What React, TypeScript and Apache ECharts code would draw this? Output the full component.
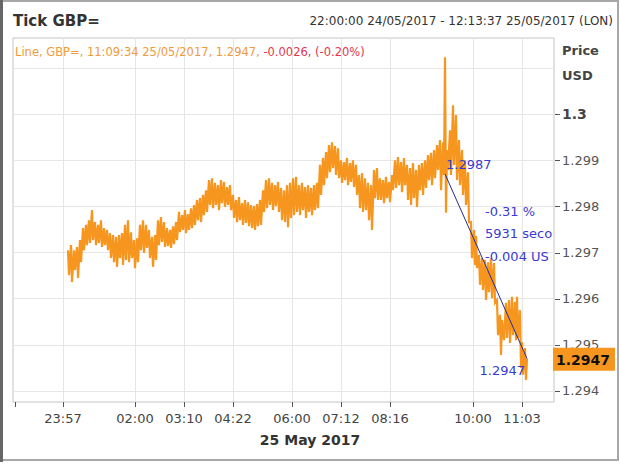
import React, { useEffect, useRef } from "react";
import * as echarts from "echarts";

const FONT = '"DejaVu Sans", sans-serif';

// x axis: tick-count position scale (not linear in time)
const xMin = 0;
const xMax = 541;
const xTickPos = [2, 50, 122, 171, 220, 279, 328, 377, 460, 509];
const xTickLabels = ["", "23:57", "02:00", "03:10", "04:22", "06:00", "07:12", "08:16", "10:00", "11:03"];

const yMin = 1.29376;
const yMax = 1.30165;
const yTickValues = [1.294, 1.295, 1.296, 1.297, 1.298, 1.299, 1.3];
const yGridValues = [1.294, 1.295, 1.296, 1.297, 1.298, 1.299, 1.3, 1.301];

const tickIndex = [
  55, 56, 58, 59, 61, 62, 64, 65, 67, 68, 70, 71, 73, 74, 76, 77, 79, 80, 82, 83, 85, 86, 88, 89, 91, 92, 94, 95,
  97, 98, 100, 101, 103, 104, 106, 107, 109, 110, 112, 113, 115, 116, 118, 119, 121, 122, 124, 125, 127, 128, 130,
  131, 133, 134, 136, 137, 139, 140, 142, 143, 145, 146, 148, 149, 151, 152, 154, 155, 157, 158, 160, 161, 163, 164,
  166, 167, 169, 170, 172, 173, 175, 176, 178, 179, 181, 182, 184, 185, 187, 188, 190, 191, 193, 194, 196, 197, 199,
  200, 202, 203, 205, 206, 208, 209, 211, 212, 214, 215, 217, 218, 220, 221, 223, 224, 226, 227, 229, 230, 232, 233,
  235, 236, 238, 239, 241, 242, 244, 245, 247, 248, 250, 251, 253, 254, 256, 257, 259, 260, 262, 263, 265, 266, 268,
  269, 271, 272, 274, 275, 277, 278, 280, 281, 283, 284, 286, 287, 289, 290, 292, 293, 295, 296, 298, 299, 301, 302,
  304, 305, 307, 308, 310, 311, 313, 314, 316, 317, 319, 320, 322, 323, 325, 326, 328, 329, 331, 332, 334, 335, 337,
  338, 340, 341, 343, 344, 346, 347, 349, 350, 352, 353, 355, 356, 358, 359, 361, 362, 364, 365, 367, 368, 370, 371,
  373, 374, 376, 377, 379, 380, 382, 383, 385, 386, 388, 389, 391, 392, 394, 395, 397, 398, 400, 401, 403, 404, 406,
  407, 409, 410, 412, 413, 415, 416, 418, 419, 421, 422, 424, 425, 427, 428, 430, 431, 432, 433, 434, 435, 437, 438,
  440, 441, 443, 444, 446, 447, 449, 450, 452, 453, 455, 456, 458, 459, 461, 462, 463, 464, 466, 467, 469, 470, 472,
  473, 475, 476, 478, 479, 481, 482, 484, 485, 487, 488, 489, 491, 493, 494, 496, 497, 499, 500, 502, 503, 504, 505,
  507, 508, 509, 510, 512, 513, 514,
];

const tickPrice = [
  1.29705, 1.29651, 1.29716, 1.29636, 1.29705, 1.29662, 1.29712, 1.29645, 1.29727, 1.29679, 1.29753, 1.29705,
  1.2976, 1.29716, 1.2977, 1.29721, 1.29792, 1.29727, 1.29766, 1.29716, 1.2976, 1.29721, 1.2977, 1.29712, 1.29753,
  1.29716, 1.29749, 1.29705, 1.29742, 1.29688, 1.29738, 1.29679, 1.29734, 1.29669, 1.29738, 1.29688, 1.29742,
  1.29673, 1.2976, 1.29684, 1.2977, 1.29679, 1.29744, 1.29688, 1.29727, 1.29666, 1.29731, 1.29679, 1.2976, 1.29705,
  1.2977, 1.29699, 1.2976, 1.2971, 1.29749, 1.29688, 1.29734, 1.29669, 1.29738, 1.29684, 1.2977, 1.29716, 1.29777,
  1.29723, 1.29766, 1.29712, 1.29753, 1.29714, 1.29749, 1.2971, 1.29757, 1.29718, 1.29766, 1.29727, 1.29788,
  1.29744, 1.29781, 1.29749, 1.29792, 1.29742, 1.29783, 1.29749, 1.29796, 1.29753, 1.29803, 1.2976, 1.29814,
  1.2977, 1.29818, 1.29766, 1.29825, 1.29781, 1.29835, 1.29788, 1.29857, 1.29803, 1.29861, 1.29796, 1.29851,
  1.29803, 1.29846, 1.29792, 1.29857, 1.29807, 1.29853, 1.29799, 1.29842, 1.29803, 1.29846, 1.29792, 1.29825,
  1.29775, 1.29814, 1.29766, 1.2982, 1.2977, 1.29807, 1.2976, 1.29814, 1.29764, 1.29809, 1.29757, 1.29803, 1.29753,
  1.29801, 1.29749, 1.29805, 1.29757, 1.29814, 1.2976, 1.29835, 1.29788, 1.29857, 1.29796, 1.29861, 1.29803,
  1.29851, 1.29792, 1.29846, 1.29801, 1.29853, 1.29788, 1.2984, 1.2977, 1.29835, 1.29766, 1.29846, 1.29755,
  1.29851, 1.29775, 1.29861, 1.29781, 1.29864, 1.29788, 1.29846, 1.29781, 1.29851, 1.29792, 1.29842, 1.29775,
  1.29846, 1.29788, 1.2984, 1.29781, 1.29846, 1.29792, 1.29851, 1.29796, 1.2989, 1.29825, 1.29905, 1.29846,
  1.29918, 1.29861, 1.29933, 1.29874, 1.29939, 1.29883, 1.29931, 1.29868, 1.29926, 1.29861, 1.299, 1.29851,
  1.29896, 1.29857, 1.29905, 1.29846, 1.29894, 1.29853, 1.299, 1.29842, 1.2989, 1.29825, 1.29868, 1.29796, 1.29872,
  1.29788, 1.29861, 1.29792, 1.29851, 1.2977, 1.29846, 1.29749, 1.29879, 1.29818, 1.29883, 1.29814, 1.29861,
  1.29814, 1.29857, 1.29807, 1.29864, 1.29818, 1.29853, 1.29809, 1.29868, 1.29835, 1.299, 1.2984, 1.29907, 1.29846,
  1.29896, 1.29831, 1.29905, 1.29846, 1.2989, 1.29814, 1.29883, 1.29803, 1.29894, 1.29818, 1.29879, 1.29799,
  1.2989, 1.29835, 1.29894, 1.29825, 1.299, 1.2984, 1.29911, 1.29857, 1.29916, 1.29846, 1.29922, 1.29861, 1.29933,
  1.29879, 1.29944, 1.29835, 1.29939, 1.29868, 1.30123, 1.29786, 1.29922, 1.29879, 1.29965, 1.29868, 1.30019,
  1.2989, 1.29998, 1.29857, 1.29944, 1.29846, 1.29922, 1.29825, 1.299, 1.29803, 1.29874, 1.29766, 1.29766, 1.29688,
  1.29749, 1.29673, 1.29736, 1.29666, 1.29695, 1.2963, 1.29688, 1.29619, 1.29684, 1.29597, 1.29679, 1.29614,
  1.29688, 1.29601, 1.29677, 1.29591, 1.29597, 1.29521, 1.29565, 1.29478, 1.29554, 1.2951, 1.29591, 1.29515,
  1.29597, 1.29504, 1.29604, 1.29521, 1.29593, 1.2951, 1.29604, 1.29515, 1.29575, 1.2945, 1.29506, 1.29435,
  1.29493, 1.29424, 1.2947,
];

const trendIndex = [432, 514];
const trendPrice = [1.2987, 1.2947];
const lastPrice = 1.2947;

const ORANGE = "#f7961e";
const BLUE = "#3a3ad2";
const GRID = "#e6e6e6";

export default function App() {
  const ref = useRef<HTMLDivElement>(null);

  useEffect(() => {
    document.body.style.margin = "0";
    const chart = echarts.init(ref.current!, null, { renderer: "svg" });
    chart.setOption({
      animation: false,
      backgroundColor: "#ffffff",
      grid: {
        left: 13,
        top: 38,
        width: 541,
        height: 364,
        show: true,
        borderColor: "#c4c4c4",
        borderWidth: 1,
        backgroundColor: "transparent",
      },
      xAxis: [
        {
          type: "value",
          min: xMin,
          max: xMax,
          axisLine: { show: false },
          splitLine: { show: false },
          axisTick: { show: true, length: 5, customValues: xTickPos, lineStyle: { color: "#555" } },
          axisLabel: {
            customValues: xTickPos,
            margin: 10,
            fontFamily: FONT,
            fontSize: 13,
            color: "#444",
            formatter: (v: number) => {
              const i = xTickPos.indexOf(v);
              return i >= 0 ? xTickLabels[i] : "";
            },
          },
        },
        {
          type: "value",
          min: xMin,
          max: xMax,
          position: "bottom",
          axisLine: { show: false },
          axisLabel: { show: false, customValues: xTickPos.slice(1) },
          axisTick: { show: false, customValues: xTickPos.slice(1) },
          splitLine: { show: true, lineStyle: { color: GRID, width: 1 } },
        },
      ],
      yAxis: [
        {
          type: "value",
          position: "right",
          min: yMin,
          max: yMax,
          axisLine: { show: false },
          splitLine: { show: false },
          axisTick: { show: false, customValues: yTickValues },
          axisLabel: {
            customValues: yTickValues,
            margin: 8,
            fontFamily: FONT,
            fontSize: 13,
            color: "#555",
            formatter: (v: number) => (Math.abs(v - 1.3) < 1e-9 ? "{b|1.3}" : v.toFixed(3)),
            rich: { b: { fontFamily: FONT, fontSize: 14, fontWeight: "bold", color: "#444" } },
          },
        },
        {
          type: "value",
          position: "right",
          min: yMin,
          max: yMax,
          axisLine: { show: false },
          axisLabel: { show: false, customValues: yGridValues },
          axisTick: { show: false, customValues: yGridValues },
          splitLine: { show: true, lineStyle: { color: GRID, width: 1 } },
        },
      ],
      series: [
        {
          type: "line",
          data: tickIndex.map((x, i) => [x, tickPrice[i]]),
          showSymbol: false,
          symbol: "none",
          z: 3,
          lineStyle: { color: ORANGE, width: 2.2, join: "miter" },
        },
        {
          type: "line",
          data: trendIndex.map((x, i) => [x, trendPrice[i]]),
          showSymbol: false,
          symbol: "none",
          z: 4,
          lineStyle: { color: "#2a2a88", width: 1 },
        },
      ],
    });

    const py = (v: number) => chart.convertToPixel({ yAxisIndex: 0 }, v) as number;
    const pt = (x: number, v: number) => chart.convertToPixel({ xAxisIndex: 0, yAxisIndex: 0 }, [x, v]) as number[];
    const rightX = chart.convertToPixel({ xAxisIndex: 0 }, xMax) as number;
    const tagY = py(lastPrice);
    const s = pt(trendIndex[0], trendPrice[0]);
    const e = pt(trendIndex[1], trendPrice[1]);

    const txt = (x: number, y: number, text: string, extra: any = {}) => ({
      type: "text",
      x,
      y,
      z: 100,
      style: {
        text,
        fontFamily: FONT,
        fontSize: 13,
        fill: "#333",
        align: "left",
        verticalAlign: "middle",
        ...extra,
      },
    });

    const yTickMarks = yTickValues.map((v) => {
      const y = Math.round(py(v)) + 0.5;
      return {
        type: "line",
        z: 95,
        shape: { x1: rightX + 1, y1: y, x2: rightX + 6, y2: y },
        style: { stroke: "#555", lineWidth: 1 },
      };
    });

    chart.setOption({
      graphic: [
        {
          type: "rect",
          z: 90,
          shape: { x: 1, y: 1, width: 617, height: 459 },
          style: { fill: "none", stroke: "#a8a8a8", lineWidth: 2 },
        },
        { type: "rect", z: 91, shape: { x: 0, y: 0, width: 3, height: 462 }, style: { fill: "#666" } },
        ...yTickMarks,
        txt(13, 21, "Tick GBP=", { fontSize: 15, fontWeight: "bold", fill: "#333" }),
        txt(613, 21, "22:00:00 24/05/2017 - 12:13:37 25/05/2017 (LON)", { fontSize: 12, align: "right", fill: "#333" }),
        {
          type: "text",
          x: 15,
          y: 52,
          z: 100,
          style: {
            text: "{o|Line, GBP=, 11:09:34 25/05/2017, 1.2947, }{r|-0.0026, (-0.20%)}",
            verticalAlign: "middle",
            rich: {
              o: { fill: "#f09a3c", fontFamily: FONT, fontSize: 11.5 },
              r: { fill: "#e3384c", fontFamily: FONT, fontSize: 11.5 },
            },
          },
        },
        txt(562, 50, "Price", { fontWeight: "bold", fill: "#444" }),
        txt(562, 75, "USD", { fontWeight: "bold", fill: "#444" }),
        txt(310, 440, "25 May 2017", { fontSize: 14, fontWeight: "bold", align: "center", fill: "#333" }),
        {
          type: "rect",
          z: 100,
          shape: { x: 553, y: tagY - 11, width: 62, height: 23 },
          style: { fill: ORANGE },
        },
        txt(556, tagY + 1, "1.2947", { fontSize: 14, fontWeight: "bold", fill: "#111" }),
        txt(s[0] + 1, s[1] - 10, "1.2987", { fill: BLUE }),
        txt(s[0] + 40, s[1] + 37, "-0.31 %", { fill: BLUE }),
        txt(s[0] + 40, s[1] + 59, "5931 seconds", { fill: BLUE, width: 69, overflow: "truncate", ellipsis: "" }),
        txt(s[0] + 40, s[1] + 82, "-0.004 USD", { fill: BLUE, width: 69, overflow: "truncate", ellipsis: "" }),
        txt(e[0] - 2, e[1] + 12, "1.2947", { fill: BLUE, align: "right" }),
      ],
    });

    return () => chart.dispose();
  }, []);

  return <div ref={ref} style={{ width: 620, height: 465 }} />;
}
